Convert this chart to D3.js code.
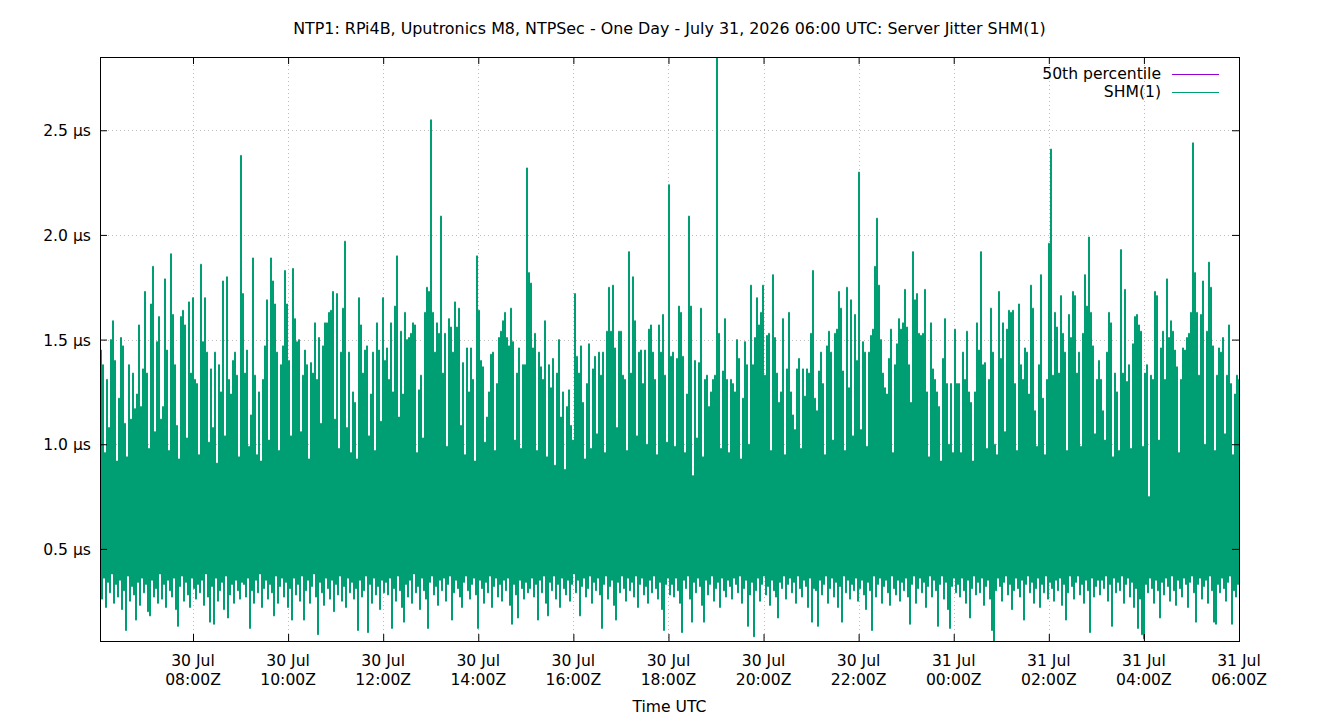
<!DOCTYPE html>
<html><head><meta charset="utf-8">
<script src="https://cdn.jsdelivr.net/npm/d3@7"></script>
<style>
html,body{margin:0;padding:0;background:#fff;}
svg{display:block;font-family:"DejaVu Sans",sans-serif;}
</style></head><body>
<svg id="chart" width="1340" height="720"></svg>
<script>
const titleText = "NTP1: RPi4B, Uputronics M8, NTPSec - One Day - July 31, 2026 06:00 UTC: Server Jitter SHM(1)";
const xAxisLabel = "Time UTC";
const seriesNames = ["50th percentile", "SHM(1)"];
const yTickValues = [0.5, 1.0, 1.5, 2.0, 2.5];
const yTickLabels = ["0.5 µs", "1.0 µs", "1.5 µs", "2.0 µs", "2.5 µs"];
const firstSampleTime = "2026-07-30T06:02:38Z";
const lastSampleTime = "2026-07-31T06:00:00Z";
const percentile50 = 0.60;

// per ~2.5-minute interval: lowest and highest server jitter (µs)
const troughValues = [
0.31,0.26,0.36,0.22,0.34,0.29,0.38,0.24,0.33,0.27,
0.35,0.21,0.30,0.11,0.37,0.25,0.32,0.28,0.16,0.34,
0.23,0.36,0.29,0.33,0.20,0.18,0.35,0.27,0.31,0.24,
0.38,0.26,0.33,0.22,0.35,0.30,0.27,0.36,0.21,0.13,
0.32,0.37,0.25,0.34,0.28,0.22,0.36,0.31,0.26,0.33,
0.29,0.35,0.23,0.38,0.27,0.15,0.32,0.14,0.36,0.25,
0.30,0.34,0.21,0.37,0.17,0.28,0.33,0.24,0.35,0.30,
0.26,0.34,
0.33,0.27,0.36,0.12,0.30,0.24,0.35,0.29,0.38,0.22,
0.31,0.35,0.26,0.33,0.29,0.18,0.37,0.24,0.32,0.36,
0.27,0.34,0.22,0.31,0.16,0.36,0.28,0.33,0.25,0.37,
0.16,0.30,0.35,0.24,0.32,0.38,0.27,0.09,0.34,0.29,
0.23,0.36,0.31,0.26,0.35,0.20,0.33,0.28,0.37,0.25,
0.32,0.22,0.36,0.29,0.34,0.26,0.31,0.11,0.35,0.27,
0.30,0.37,0.10,0.33,0.24,0.36,0.28,0.32,0.21,0.35,
0.29,
0.34,0.28,0.36,0.12,0.31,0.25,0.37,0.30,0.22,0.15,
0.33,0.27,0.35,0.24,0.38,0.29,0.32,0.21,0.36,0.30,
0.26,0.12,0.34,0.37,0.28,0.32,0.23,0.35,0.30,0.36,
0.25,0.33,0.37,0.16,0.29,0.35,0.31,0.27,0.22,0.34,
0.37,0.30,0.26,0.33,0.36,0.28,0.12,0.35,0.31,0.24,
0.34,0.29,0.37,0.22,0.32,0.36,0.27,0.33,0.25,0.35,
0.30,0.36,0.23,0.14,0.33,0.28,0.17,0.35,0.31,0.26,
0.34,0.29,
0.31,0.36,0.27,0.33,0.16,0.35,0.29,0.37,0.24,0.18,
0.34,0.30,0.37,0.26,0.33,0.22,0.36,0.31,0.28,0.35,
0.25,0.33,0.38,0.29,0.35,0.18,0.32,0.36,0.27,0.31,
0.37,0.24,0.34,0.30,0.36,0.28,0.12,0.33,0.37,0.26,
0.32,0.35,0.23,0.16,0.34,0.29,0.37,0.31,0.25,0.36,
0.30,0.34,0.27,0.37,0.22,0.33,0.36,0.28,0.32,0.24,
0.35,0.29,0.37,0.31,0.26,0.34,0.21,0.11,0.33,0.36,
0.28,
0.33,0.27,0.36,0.30,0.24,0.10,0.35,0.31,0.37,0.26,
0.15,0.34,0.29,0.36,0.32,0.23,0.15,0.35,0.28,0.33,
0.37,0.25,0.31,0.34,0.22,0.36,0.30,0.27,0.35,0.32,
0.26,0.36,0.33,0.29,0.37,0.24,0.31,0.35,0.13,0.28,
0.34,0.08,0.30,0.36,0.25,0.33,0.37,0.28,0.32,0.23,
0.35,0.30,0.27,0.17,0.34,0.31,0.37,0.26,0.33,0.36,
0.29,0.34,0.24,0.37,0.31,0.27,0.35,0.32,0.22,0.36,
0.15,0.31,
0.30,0.13,0.35,0.28,0.33,0.37,0.24,0.31,0.36,0.27,
0.34,0.22,0.32,0.15,0.37,0.29,0.35,0.26,0.33,0.30,
0.36,0.25,0.31,0.35,0.28,0.21,0.34,0.30,0.11,0.37,
0.27,0.33,0.36,0.24,0.32,0.35,0.29,0.23,0.37,0.31,
0.28,0.35,0.25,0.34,0.30,0.36,0.27,0.14,0.33,0.37,
0.24,0.31,0.36,0.29,0.34,0.22,0.32,0.37,0.27,0.35,
0.30,0.13,0.33,0.37,0.26,0.34,0.21,0.12,0.32,0.36,
0.29,
0.33,0.27,0.36,0.30,0.24,0.35,0.17,0.31,0.37,0.28,
0.34,0.29,0.36,0.23,0.32,0.35,0.26,0.11,0.06,0.30,
0.36,0.32,0.25,0.34,0.37,0.28,0.33,0.21,0.30,0.36,
0.31,0.27,0.35,0.16,0.33,0.37,0.29,0.34,0.24,0.31,
0.36,0.22,0.33,0.29,0.37,0.26,0.34,0.31,0.25,0.35,
0.30,0.36,0.23,0.33,0.16,0.29,0.37,0.32,0.26,0.34,
0.37,0.28,0.33,0.24,0.35,0.30,0.10,0.36,0.27,0.32,
0.35,
0.28,0.35,0.31,0.37,0.25,0.33,0.13,0.36,0.29,0.34,
0.30,0.37,0.24,0.33,0.36,0.27,0.34,0.22,0.31,0.12,
0.26,0.09,0.07,0.33,0.29,0.36,0.31,0.24,0.35,0.30,
0.17,0.34,0.28,0.36,0.32,0.25,0.37,0.30,0.23,0.35,
0.31,0.27,0.36,0.33,0.22,0.34,0.37,0.29,0.15,0.33,
0.36,0.26,0.32,0.35,0.24,0.37,0.30,0.15,0.14,0.33,
0.29,0.36,0.31,0.25,0.34,0.37,0.14,0.30,0.27,0.33
];
const peakValues = [
1.45,1.38,0.96,1.31,1.08,1.50,1.59,1.40,0.92,1.22,
1.51,1.47,1.10,0.94,1.38,1.12,1.34,1.17,1.24,1.57,
1.18,1.36,1.73,1.34,0.98,1.67,1.85,1.06,1.49,1.61,
1.12,1.18,1.79,1.45,0.97,1.91,1.62,1.38,1.09,0.93,
1.61,1.64,1.57,1.03,1.68,1.34,1.70,1.31,1.29,0.95,
1.86,1.49,1.70,1.44,1.01,1.36,1.08,1.44,0.91,1.38,
1.25,1.78,1.04,1.80,1.31,1.24,1.40,1.44,1.33,0.94,
2.38,1.72,
1.34,1.45,0.99,1.14,1.89,1.33,0.95,1.25,0.92,1.31,
1.47,1.69,1.02,1.89,1.78,1.67,1.44,0.97,1.38,1.47,
1.83,1.67,1.40,1.04,1.84,1.60,1.49,1.50,1.06,1.33,
1.45,1.38,0.93,1.39,1.34,1.58,1.31,1.51,1.10,1.47,
1.58,1.58,1.63,1.64,1.73,1.12,1.72,0.98,1.44,1.65,
1.97,1.08,1.44,0.96,1.25,1.20,0.93,1.70,1.57,1.34,
1.45,1.47,1.04,1.24,1.44,0.97,1.58,1.45,1.11,1.70,
1.40,
1.46,1.31,1.58,1.25,1.66,1.90,1.13,1.54,1.24,1.63,
1.50,1.51,1.53,1.58,1.57,0.96,1.26,1.33,1.03,1.63,
1.75,1.73,2.55,1.63,1.44,1.58,1.53,2.09,1.34,1.53,
0.99,1.60,1.56,1.44,1.68,1.56,1.65,1.09,1.39,0.95,
1.46,1.25,1.46,1.31,0.92,1.90,1.64,1.40,1.37,1.01,
1.13,1.25,1.43,1.44,0.97,1.29,1.51,1.54,1.59,1.63,
1.51,1.47,1.65,1.49,1.02,1.34,1.46,0.98,1.38,1.38,
2.32,1.82,
1.77,1.46,1.53,0.97,1.44,1.37,1.31,1.59,0.94,1.38,
1.27,1.41,0.90,1.34,1.50,1.13,1.25,0.88,1.18,1.26,
1.09,1.02,1.72,1.42,1.34,1.47,1.20,0.93,1.29,1.48,
0.98,1.36,1.42,1.05,1.44,1.33,1.44,0.96,1.54,1.75,
1.54,1.76,1.46,1.08,1.54,1.54,1.33,1.31,0.97,1.92,
1.34,1.80,1.59,1.04,1.44,1.45,1.29,1.45,1.00,1.55,
1.57,1.44,1.31,0.95,1.57,1.44,1.62,1.33,1.01,2.24,
1.42,
1.44,0.99,1.41,1.66,1.63,1.42,0.96,1.24,2.09,1.66,
0.85,1.40,1.03,1.39,1.65,0.94,1.31,1.33,1.18,1.25,
1.31,1.33,2.85,1.53,0.98,1.35,1.60,1.31,0.96,1.31,
1.29,1.25,1.50,1.41,0.93,1.22,1.49,1.38,1.00,1.76,
1.38,1.51,1.70,1.57,1.63,1.76,1.33,1.52,1.53,0.97,
1.81,1.51,1.34,1.20,1.25,1.60,0.95,1.36,1.63,1.25,
1.14,1.07,1.36,1.41,0.98,1.36,1.23,1.36,1.34,1.53,
1.83,1.22,
1.16,1.35,1.44,1.29,0.95,1.47,1.54,1.44,1.02,1.53,
1.55,1.73,1.65,1.35,0.97,1.75,1.27,1.69,1.04,1.62,
1.40,2.30,1.07,1.49,1.44,0.99,1.44,1.52,1.55,1.85,
2.08,1.76,1.50,1.34,1.27,1.24,1.41,1.55,0.96,1.38,
1.48,1.60,1.55,1.58,1.74,1.56,1.38,1.20,1.92,1.69,
1.72,1.53,1.52,1.53,1.74,1.25,0.94,1.58,1.36,1.31,
1.25,1.18,0.92,1.41,1.60,1.29,1.00,1.29,0.96,1.55,
1.29,
1.29,0.96,1.44,1.31,1.54,1.25,1.20,0.92,1.25,1.58,
1.45,1.92,1.38,1.39,0.98,1.31,1.65,1.44,1.00,0.95,
1.73,1.41,1.58,1.06,1.55,1.64,1.63,1.64,1.29,0.97,
1.67,1.38,1.31,1.46,1.44,1.24,1.76,1.65,1.16,0.99,
1.38,1.81,1.22,0.95,1.31,1.96,2.41,1.33,1.63,1.56,
1.34,1.71,1.53,1.44,0.97,1.62,1.51,1.73,1.71,1.34,
1.44,0.99,1.53,1.81,1.66,1.99,1.63,1.47,1.05,1.31,
1.40,
1.31,1.16,1.02,1.44,1.63,1.58,0.94,1.34,1.25,0.97,
1.93,1.34,1.74,1.30,1.38,0.98,1.48,1.61,1.62,1.57,
1.54,0.99,1.34,1.38,0.75,1.33,1.31,1.73,1.71,1.02,
1.46,1.54,1.31,1.79,1.51,1.59,1.54,1.45,1.37,0.96,
1.31,1.46,1.45,1.51,1.53,1.63,2.44,1.82,1.63,1.33,
1.62,1.78,1.00,1.54,1.87,1.75,1.47,0.97,1.33,1.46,
1.44,1.51,1.05,1.33,1.57,1.29,0.95,1.24,1.33,1.31
];

const mLeft = 100, mRight = 1239, mTop = 57, mBottom = 641;
const fontSize = 15.6;
const green = "#009e73", purple = "#9400d3";

const svg = d3.select("#chart");
const n = Math.min(troughValues.length, peakValues.length);
const t0 = new Date(firstSampleTime), t1 = new Date(lastSampleTime);
const stepMs = (t1 - t0) / (2 * n - 1);
const points = [];
for (let j = 0; j < n; j++) {
  points.push({t: new Date(+t0 + stepMs * (2 * j)), v: troughValues[j]});
  points.push({t: new Date(+t0 + stepMs * (2 * j + 1)), v: peakValues[j]});
}

const x = d3.scaleUtc().domain([t0, t1]).range([mLeft, mRight]);
const y = d3.scaleLinear().domain(d3.extent(points, d => d.v)).range([mBottom, mTop]);
const xTicks = x.ticks(d3.utcHour.every(2));

// grid (behind data)
const grid = svg.append("g").attr("stroke", "#bdbdbd").attr("stroke-width", 1).attr("stroke-dasharray", "1,3");
grid.selectAll("line.gx").data(xTicks).join("line").attr("class", "gx")
  .attr("x1", d => Math.round(x(d)) + 0.5).attr("x2", d => Math.round(x(d)) + 0.5)
  .attr("y1", mTop).attr("y2", mBottom);
grid.selectAll("line.gy").data(yTickValues).join("line").attr("class", "gy")
  .attr("x1", mLeft).attr("x2", mRight)
  .attr("y1", d => Math.round(y(d)) + 0.5).attr("y2", d => Math.round(y(d)) + 0.5);

svg.append("clipPath").attr("id", "plotclip").append("rect")
  .attr("x", mLeft).attr("y", mTop).attr("width", mRight - mLeft).attr("height", mBottom - mTop);

const plot = svg.append("g").attr("clip-path", "url(#plotclip)");
plot.append("line")
  .attr("x1", x(t0)).attr("x2", x(t1))
  .attr("y1", y(percentile50)).attr("y2", y(percentile50))
  .attr("stroke", purple).attr("stroke-width", 1);
const line = d3.line().x(d => x(d.t)).y(d => y(d.v)).curve(d3.curveStep);
plot.append("path").datum(points)
  .attr("d", line).attr("fill", "none")
  .attr("stroke", green).attr("stroke-width", 1);

// ticks (inward, mirrored)
const tickLen = 7;
const axG = svg.append("g");
axG.append("g").attr("transform", `translate(0,${mBottom})`)
  .call(d3.axisBottom(x).tickValues(xTicks).tickSizeInner(-tickLen).tickSizeOuter(0).tickFormat(""));
axG.append("g").attr("transform", `translate(0,${mTop})`)
  .call(d3.axisTop(x).tickValues(xTicks).tickSizeInner(-tickLen).tickSizeOuter(0).tickFormat(""));
axG.append("g").attr("transform", `translate(${mLeft},0)`)
  .call(d3.axisLeft(y).tickValues(yTickValues).tickSizeInner(-tickLen).tickSizeOuter(0).tickFormat(""));
axG.append("g").attr("transform", `translate(${mRight},0)`)
  .call(d3.axisRight(y).tickValues(yTickValues).tickSizeInner(-tickLen).tickSizeOuter(0).tickFormat(""));
axG.selectAll(".domain").remove();
axG.selectAll(".tick line").attr("stroke", "#000").attr("stroke-width", 1);

// border
svg.append("rect").attr("x", mLeft + 0.5).attr("y", mTop + 0.5)
  .attr("width", mRight - mLeft).attr("height", mBottom - mTop)
  .attr("fill", "none").attr("stroke", "#000").attr("stroke-width", 1);

// tick labels
const fmtDay = d3.utcFormat("%d %b"), fmtTime = d3.utcFormat("%H:%MZ");
const xl = svg.append("g").attr("font-size", fontSize).attr("text-anchor", "middle").attr("fill", "#000");
xl.selectAll("text.d").data(xTicks).join("text").attr("class", "d")
  .attr("x", d => x(d)).attr("y", 666).text(d => fmtDay(d));
xl.selectAll("text.t").data(xTicks).join("text").attr("class", "t")
  .attr("x", d => x(d)).attr("y", 684.5).text(d => fmtTime(d));

svg.append("g").attr("font-size", fontSize).attr("text-anchor", "end")
  .selectAll("text").data(yTickValues).join("text")
  .attr("x", 91).attr("y", d => y(d) + 6).text((d, i) => yTickLabels[i]);

// title & axis label
svg.append("text").attr("x", (mLeft + mRight) / 2).attr("y", 34)
  .attr("text-anchor", "middle").attr("font-size", 15.9).text(titleText);
svg.append("text").attr("x", (mLeft + mRight) / 2).attr("y", 712)
  .attr("text-anchor", "middle").attr("font-size", fontSize).text(xAxisLabel);

// legend
const legendColors = [purple, green];
const lg = svg.append("g").attr("font-size", fontSize);
seriesNames.forEach((name, i) => {
  const cy = 73.5 + i * 18.4;
  lg.append("text").attr("x", 1161).attr("y", cy + 5).attr("text-anchor", "end").text(name);
  lg.append("line").attr("x1", 1172).attr("x2", 1219).attr("y1", Math.round(cy) + 0.5).attr("y2", Math.round(cy) + 0.5)
    .attr("stroke", legendColors[i]).attr("stroke-width", 1);
});
</script>
</body></html>
